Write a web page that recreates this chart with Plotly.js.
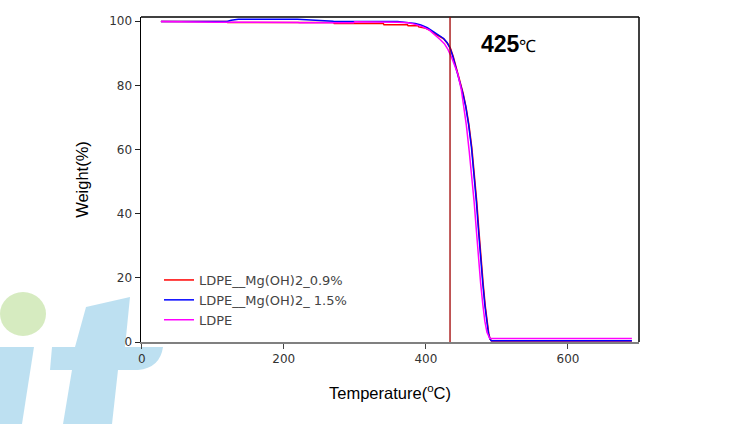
<!DOCTYPE html>
<html><head><meta charset="utf-8">
<script src="https://cdn.plot.ly/plotly-3.0.1.min.js"></script>
<style>html,body{margin:0;padding:0;background:#fff}#chart{width:756px;height:424px}</style>
</head><body><div id="chart"></div>
<script>
// ---- data ----
const seriesNames = ['LDPE__Mg(OH)2_0.9%', 'LDPE__Mg(OH)2_ 1.5%', 'LDPE'];

const temp_09 = [27, 120, 121, 270, 271, 340, 341, 374, 375, 389, 390, 400, 407, 413, 419, 425, 430, 434.5, 438.5, 442.5, 447.5, 452.5, 456.7, 460.7, 464.7, 468.7, 471.7, 474.7, 477.7, 480.7, 483.7, 486, 488.5, 490.5, 492.5, 690];
const weight_09 = [99.9, 99.9, 99.6, 99.6, 99.3, 99.3, 98.9, 98.9, 98.6, 98.6, 98.2, 97.8, 97.0, 96.0, 95.3, 94.5, 93.2, 91.6, 89.0, 85.8, 82.0, 77.5, 73.0, 67.5, 60.5, 52.0, 43.5, 34.5, 25.5, 18.0, 11.0, 6.3, 2.6, 0.9, 0.3, 0.3];

const temp_15 = [27, 120, 126, 136, 219, 243, 270, 360, 375, 385, 393, 402, 411, 418, 425, 430, 434, 438, 442, 447, 452, 456, 460, 464, 468, 471, 474, 477, 480, 483, 485.5, 488, 490, 492, 690];
const weight_15 = [99.9, 99.9, 100.3, 100.6, 100.6, 100.3, 100.0, 99.9, 99.6, 99.3, 98.8, 98.0, 96.7, 95.7, 94.6, 93.3, 91.6, 89.0, 85.8, 82.0, 77.5, 73.5, 68.0, 61.0, 52.5, 44.0, 35.0, 26.0, 18.5, 11.5, 6.5, 2.8, 1.0, 0.4, 0.4];

const temp_ldpe = [27, 100, 104, 220, 222, 298, 300, 360, 375, 385, 395, 405, 413, 420, 426, 431, 436, 440, 445, 450, 454, 457, 461, 465, 468, 471, 474, 477, 480, 483, 486, 488.5, 490, 690];
const weight_ldpe = [99.9, 99.9, 99.7, 99.6, 99.5, 99.5, 99.8, 99.7, 99.5, 99.0, 98.3, 97.2, 95.8, 94.3, 93.0, 91.2, 88.8, 86.5, 83.5, 78.5, 72.5, 67.5, 59.5, 51.0, 43.5, 35.0, 26.0, 18.5, 12.0, 6.5, 3.0, 1.6, 1.1, 1.1];

const markerTemp = [434];
const markerLabel = '425';
const xTickVals = [0, 200, 400, 600];
const yTickVals = [0, 20, 40, 60, 80, 100];

// ---- layout helpers ----
const W = 756, H = 424, ML = 141, MR = 117, MT = 17, MB = 82;
const PW = W - ML - MR, PH = H - MT - MB;
const px = x => (x - ML) / PW;
const py = y => (H - MB - y) / PH;
function pathPx(cmds) {
  return cmds.map(c => {
    if (c[0] === 'Z') return 'Z';
    const pts = [];
    for (let i = 1; i < c.length; i += 2) pts.push(px(c[i]).toFixed(4) + ',' + py(c[i + 1]).toFixed(4));
    return c[0] + pts.join(' ');
  }).join(' ');
}

const colors = ['#ff0000', '#0000ff', '#ff00ff'];
const xs = [temp_09, temp_15, temp_ldpe];
const ys = [weight_09, weight_15, weight_ldpe];

const traces = seriesNames.map((n, i) => ({
  x: xs[i], y: ys[i], name: n, type: 'scatter', mode: 'lines',
  line: { color: colors[i], width: 1.5 }
}));

const wmBlue = 'rgba(178,218,238,0.85)';
const shapes = [
  // watermark
  { type: 'circle', xref: 'paper', yref: 'paper', x0: px(0), x1: px(46), y0: py(336), y1: py(292),
    fillcolor: 'rgba(210,233,185,0.9)', line: { width: 0 }, layer: 'below' },
  { type: 'path', xref: 'paper', yref: 'paper', layer: 'below', fillcolor: wmBlue, line: { width: 0 },
    path: pathPx([['M', 0, 347], ['L', 34, 347], ['L', 22, 424], ['L', 0, 424], ['Z']]) },
  { type: 'path', xref: 'paper', yref: 'paper', layer: 'below', fillcolor: wmBlue, line: { width: 0 },
    path: pathPx([['M', 86, 307], ['L', 130, 297], ['L', 125, 347], ['L', 163, 347], ['Q', 160, 368, 138, 370],
      ['L', 118, 370], ['L', 112, 424], ['L', 63, 424], ['L', 72, 370], ['L', 50, 370], ['L', 52, 347], ['L', 75, 347], ['Z']]) },
  // frame top and right
  { type: 'line', xref: 'paper', yref: 'paper', x0: 0, x1: 1, y0: 1, y1: 1, line: { color: '#000', width: 1.5 } },
  { type: 'line', xref: 'paper', yref: 'paper', x0: 1, x1: 1, y0: 0, y1: 1, line: { color: '#000', width: 1.5 } },
  // onset temperature marker
  { type: 'line', xref: 'x', yref: 'paper', x0: markerTemp[0], x1: markerTemp[0], y0: 0, y1: 1,
    line: { color: '#a00000', width: 1.3 } }
];

const tickFont = { size: 12, color: '#333', family: 'DejaVu Sans, Liberation Sans, sans-serif' };

const layout = {
  width: W, height: H,
  margin: { l: ML, r: MR, t: MT, b: MB },
  paper_bgcolor: '#ffffff', plot_bgcolor: 'rgba(0,0,0,0)',
  font: { family: 'Liberation Sans, Arial, sans-serif', color: '#333' },
  showlegend: true,
  legend: { x: px(159), y: py(265), xanchor: 'left', yanchor: 'top', bgcolor: 'rgba(0,0,0,0)',
    font: { size: 13, color: '#444', family: 'DejaVu Sans, Liberation Sans, sans-serif' } },
  xaxis: {
    range: [-1, 700], tickvals: xTickVals, ticks: 'outside', ticklen: 5, tickcolor: '#444',
    showline: true, linecolor: '#808080', linewidth: 1.5, showgrid: false, zeroline: false,
    tickfont: tickFont,
    title: { text: 'Temperature(<sup>o</sup>C)', font: { size: 16.5, color: '#000' }, standoff: 22 }
  },
  yaxis: {
    range: [0, 101.3], tickvals: yTickVals, ticks: 'outside', ticklen: 5, tickcolor: '#222',
    showline: true, linecolor: '#000', linewidth: 1.5, showgrid: false, zeroline: false,
    tickfont: tickFont,
    title: { text: 'Weight(%)', font: { size: 16.5, color: '#000' }, standoff: 16 }
  },
  shapes: shapes,
  annotations: [{
    xref: 'paper', yref: 'paper', x: px(508), y: py(44), xanchor: 'center', yanchor: 'middle', showarrow: false,
    text: '<b>' + markerLabel + '</b><span style="font-size:17px">℃</span>',
    font: { size: 23, color: '#000', family: 'Liberation Sans Narrow, Liberation Sans, Arial, sans-serif' }
  }]
};

Plotly.newPlot('chart', traces, layout, { displayModeBar: false, staticPlot: true });
</script></body></html>
